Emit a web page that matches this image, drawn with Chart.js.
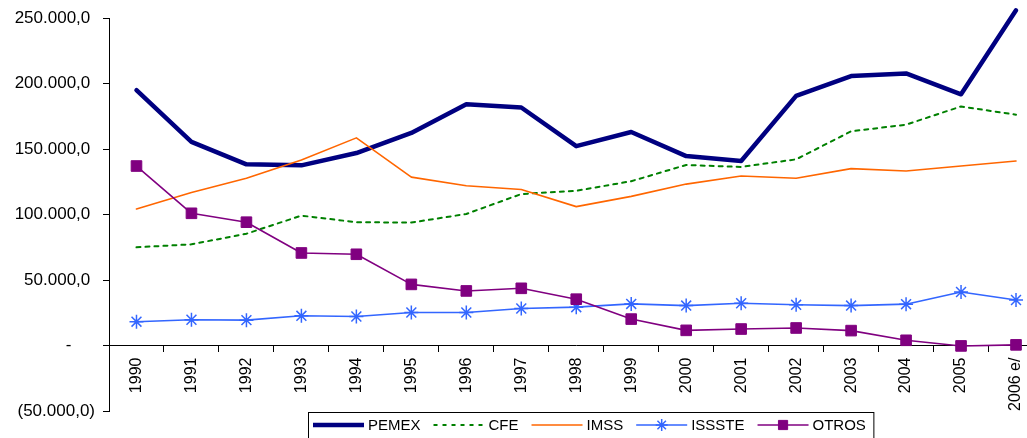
<!DOCTYPE html>
<html>
<head>
<meta charset="utf-8">
<script src="https://cdn.jsdelivr.net/npm/chart.js@4/dist/chart.umd.min.js"></script>
<style>
  html, body { margin: 0; padding: 0; overflow: hidden; background: #fff; }
  #wrap { position: absolute; left: 0; top: 0; width: 1052px; height: 438px; }
</style>
</head>
<body>
<div id="wrap"><canvas id="chart"></canvas></div>
<script>
const years = ['1990', '1991', '1992', '1993', '1994', '1995', '1996', '1997', '1998',
  '1999', '2000', '2001', '2002', '2003', '2004', '2005', '2006 e/'];
const seriesNames = ['PEMEX', 'CFE', 'IMSS', 'ISSSTE', 'OTROS'];
const pemex = [195000, 155500, 138400, 137600, 147000, 162400, 184300, 181800, 152300,
  163100, 144700, 140900, 190700, 205800, 207800, 191900, 256000];
const cfe = [75000, 77300, 85400, 99200, 94200, 93900, 100500, 115700, 118200,
  125500, 137900, 136400, 142200, 163600, 168700, 182600, 176300];
const imss = [104300, 116900, 127800, 141700, 158600, 128600, 122000, 119200, 106100,
  113900, 123300, 129500, 127800, 135100, 133300, 137100, 140900];
const issste = [18200, 19700, 19400, 22700, 22200, 25200, 25200, 28300, 29300,
  31800, 30500, 32300, 31100, 30500, 31600, 40900, 34800];
const otros = [137100, 101000, 94200, 70700, 69700, 46700, 41700, 43700, 35400,
  20200, 11600, 12600, 13400, 11400, 4000, -300, 500];
const yMin = -50000;
const yMax = 250000;
const yStep = 50000;

const FONT = '"Liberation Sans", Arial, sans-serif';

// excel accounting style: 250.000,0 / - / (50.000,0)
function fmt(v) {
  if (v === 0) return '-     ';
  const s = Math.abs(v).toFixed(0).replace(/\B(?=(\d{3})+(?!\d))/g, '.') + ',0';
  return v < 0 ? '(' + s + ')' : s + ' ';
}

const legendBox = {
  id: 'legendBox',
  afterDraw(chart) {
    const ctx = chart.ctx;
    const metas = chart.data.datasets;
    ctx.save();
    ctx.font = '15px ' + FONT;
    ctx.textBaseline = 'middle';
    const y = 425;
    let x = 313;
    const left = 308.5;
    metas.forEach((ds) => {
      ctx.strokeStyle = ds.borderColor;
      ctx.lineWidth = ds.borderWidth;
      ctx.setLineDash(ds.borderDash || []);
      ctx.beginPath();
      ctx.moveTo(x, y);
      ctx.lineTo(x + 51, y);
      ctx.stroke();
      ctx.setLineDash([]);
      if (ds.pointRadius > 0) {
        ctx.fillStyle = ds.pointBackgroundColor;
        ctx.strokeStyle = ds.pointBorderColor;
        ctx.lineWidth = ds.pointBorderWidth;
        Chart.helpers.drawPoint(ctx, {
          pointStyle: ds.pointStyle, radius: ds.pointRadius - 1,
          borderWidth: ds.pointBorderWidth, rotation: 0
        }, x + 25.5, y);
      }
      x += 55;
      ctx.fillStyle = '#000';
      ctx.fillText(ds.label, x, y + 1);
      x += ctx.measureText(ds.label).width + 13;
    });
    ctx.strokeStyle = '#000';
    ctx.lineWidth = 1;
    ctx.strokeRect(left, 412.5, x - left - 5, 26);
    ctx.restore();
  }
};

new Chart(document.getElementById('chart'), {
  type: 'line',
  data: {
    labels: years,
    datasets: [
      { label: seriesNames[0], data: pemex, borderColor: '#000080', borderWidth: 4.5,
        pointRadius: 0, order: 5 },
      { label: seriesNames[1], data: cfe, borderColor: '#008000', borderWidth: 2,
        borderDash: [4, 5], pointRadius: 0, order: 4 },
      { label: seriesNames[2], data: imss, borderColor: '#FF6600', borderWidth: 1.6,
        pointRadius: 0, order: 3 },
      { label: seriesNames[3], data: issste, borderColor: '#3366FF', borderWidth: 1.6,
        pointStyle: 'star', pointRadius: 7, pointBorderWidth: 1.5,
        pointBorderColor: '#3366FF', pointBackgroundColor: '#3366FF', order: 2 },
      { label: seriesNames[4], data: otros, borderColor: '#800080', borderWidth: 1.6,
        pointStyle: 'rect', pointRadius: 7.5, pointBorderWidth: 1,
        pointBorderColor: '#800080', pointBackgroundColor: '#800080', order: 1 }
    ]
  },
  options: {
    responsive: true,
    maintainAspectRatio: false,
    animation: false,
    events: [],
    layout: { padding: { top: 16, bottom: 27, left: 0, right: 3 } },
    elements: { line: { tension: 0, borderJoinStyle: 'round', borderCapStyle: 'round' } },
    datasets: { line: { clip: false } },
    plugins: { legend: { display: false }, tooltip: { enabled: false } },
    scales: {
      x: {
        position: { y: 0 },
        offset: true,
        grid: { offset: true, drawOnChartArea: false, drawTicks: true, tickLength: 6, color: '#000' },
        border: { display: true, color: '#000', width: 1 },
        ticks: {
          autoSkip: false, maxRotation: 90, minRotation: 90, padding: 6,
          color: '#000', font: { family: FONT, size: 16 }
        }
      },
      y: {
        min: yMin,
        max: yMax,
        afterFit(scale) { scale.width = 109; },
        grid: { drawOnChartArea: false, drawTicks: true, tickLength: 6, color: '#000' },
        border: { display: true, color: '#000', width: 1 },
        ticks: {
          stepSize: yStep, padding: 8, color: '#000',
          font: { family: FONT, size: 17 },
          callback: (v) => fmt(v)
        }
      }
    }
  },
  plugins: [legendBox]
});
</script>
</body>
</html>
